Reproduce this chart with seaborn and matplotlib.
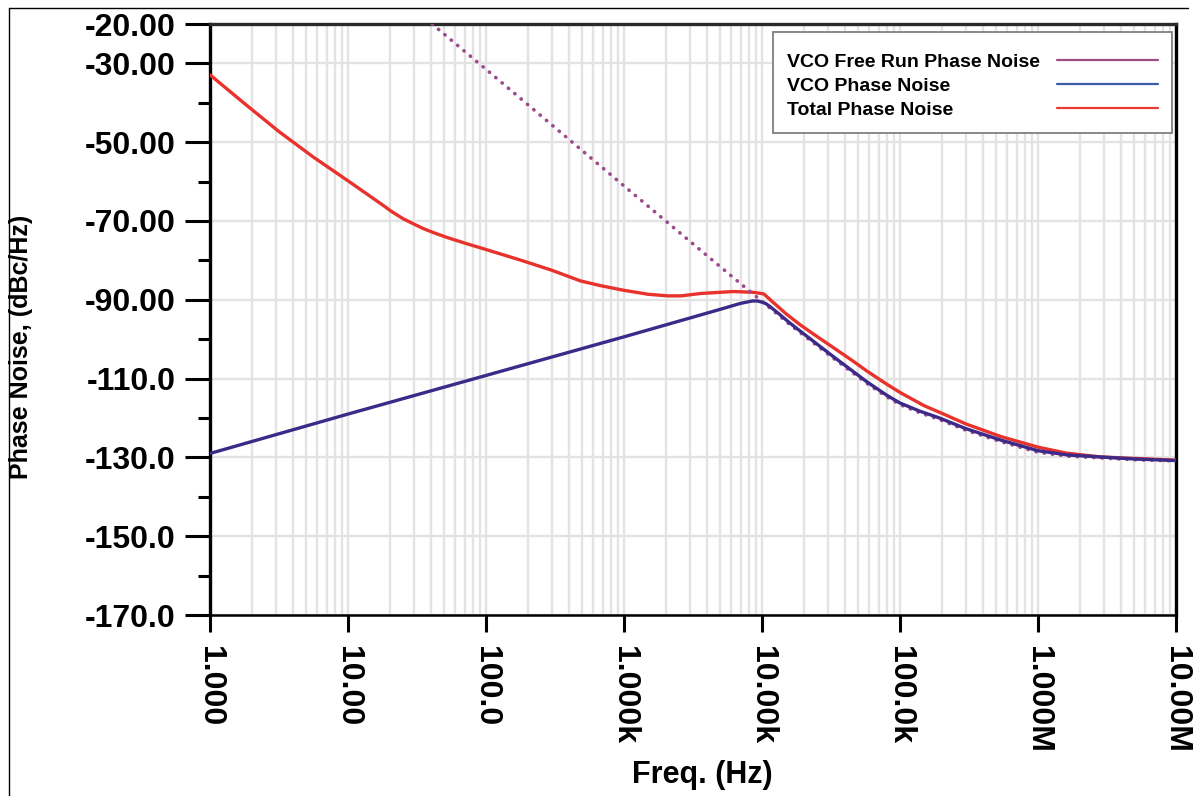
import numpy as np
import pandas as pd
import matplotlib
matplotlib.use("Agg")
import matplotlib.pyplot as plt
import seaborn as sns
from matplotlib.lines import Line2D
from matplotlib.ticker import FixedLocator, NullFormatter

# ---------------- data ----------------
total_freq = [1, 1.78, 3.16, 5.62, 10, 17.1, 18.6, 20.5, 25, 29.7, 35, 42, 52.4, 70, 91,
              177, 300, 483, 675, 1000, 1500, 2070, 2600, 3580, 6200, 8700, 10300, 12000,
              15000, 19000, 25000, 33100, 45000, 58200, 80000, 101000, 150000, 207000,
              300000, 537000, 1000000, 1600000, 2860000, 10000000]
total_pn = [-32.9, -40.2, -47.3, -53.8, -59.8, -65.5, -66.4, -67.5, -69.4, -70.7, -71.9,
            -73.0, -74.2, -75.6, -76.8, -79.9, -82.5, -85.2, -86.4, -87.6, -88.6, -89.0,
            -89.0, -88.4, -87.9, -88.1, -88.5, -90.6, -93.6, -96.4, -99.3, -102.2,
            -105.4, -108.2, -111.4, -113.6, -116.9, -119.0, -121.5, -124.7, -127.4,
            -128.9, -129.9, -130.7]

vco_freq = [1, 10, 100, 1000, 3160, 5000, 7000, 8500, 9300, 10000, 10700, 11500, 13000,
            15800, 20000, 33100, 45000, 58000, 80000, 100000, 140000, 190000, 300000,
            537000, 1000000, 1660000, 5000000, 10000000]
vco_pn = [-129.0, -119.0, -109.2, -99.4, -94.4, -92.4, -90.9, -90.3, -90.3, -90.6, -91.0,
          -91.8, -93.3, -95.8, -98.6, -104.5, -108.0, -110.9, -114.2, -116.2, -118.3,
          -119.9, -122.7, -125.6, -128.3, -129.4, -130.4, -130.8]

free_freq = [40.7, 100, 1000, 4460, 8260, 10000, 11500, 13000, 15800, 20000, 33100, 45000,
             58000, 80000, 100000, 140000, 190000, 300000, 537000, 1000000, 1660000,
             5000000, 10000000]
free_pn = [-20.0, -31.5, -61.1, -80.2, -88.0, -90.4, -92.2, -93.7, -96.2, -99.0, -104.9,
           -108.4, -111.3, -114.6, -116.6, -118.7, -120.3, -123.1, -126.0, -128.7,
           -129.7, -130.6, -130.9]

series_labels = ["VCO Free Run Phase Noise", "VCO Phase Noise", "Total Phase Noise"]

x_ticks = [1, 10, 100, 1e3, 1e4, 1e5, 1e6, 1e7]
x_ticklabels = ["1.000", "10.00", "100.0", "1.000k", "10.00k", "100.0k", "1.000M", "10.00M"]
y_ticks = [-170, -150, -130, -110, -90, -70, -50, -30, -20]
y_ticklabels = ["-170.0", "-150.0", "-130.0", "-110.0", "-90.00", "-70.00", "-50.00",
                "-30.00", "-20.00"]
y_minor = [-160, -140, -120, -100, -80, -60, -40]

# ---------------- style ----------------
sns.set_theme(style="ticks")
plt.rcParams["font.family"] = ["Liberation Sans", "DejaVu Sans"]
plt.rcParams["text.color"] = "black"
plt.rcParams["axes.labelcolor"] = "black"
plt.rcParams["xtick.color"] = "black"
plt.rcParams["ytick.color"] = "black"

W, H = 1203, 796
AX_L, AX_R, AX_T, AX_B = 210, 1176, 24, 615
AW, AH = AX_R - AX_L, AX_B - AX_T


def ax_x(px):
    return (px - AX_L) / AW


def ax_y(py):
    return (AX_B - py) / AH


fig = plt.figure(figsize=(W / 100, H / 100), dpi=100)
fig.patch.set_facecolor("white")
ax = fig.add_axes([AX_L / W, 1 - AX_B / H, AW / W, AH / H])
ax.set_facecolor("white")

df_total = pd.DataFrame({"f": total_freq, "pn": total_pn})
df_vco = pd.DataFrame({"f": vco_freq, "pn": vco_pn})
df_free = pd.DataFrame({"f": free_freq, "pn": free_pn})

sns.lineplot(data=df_total, x="f", y="pn", ax=ax, color="#e8322b", lw=2.4,
             zorder=3, estimator=None)
sns.lineplot(data=df_free, x="f", y="pn", ax=ax, color="#9c4a8c", lw=2.6,
             linestyle=(0, (0.1, 2.2)), dash_capstyle="round", zorder=4, estimator=None)
sns.lineplot(data=df_vco, x="f", y="pn", ax=ax, color="#3c2a88", lw=2.4,
             zorder=5, estimator=None)

ax.set_xscale("log")
ax.set_xlim(1, 1e7)
ax.set_ylim(-170, -20)

ax.xaxis.set_major_locator(FixedLocator(x_ticks))
ax.set_xticklabels(x_ticklabels, rotation=-90, fontsize=23, fontweight="bold")
minor_x = [m * 10 ** d for d in range(0, 7) for m in range(2, 10)]
ax.xaxis.set_minor_locator(FixedLocator(minor_x))
ax.xaxis.set_minor_formatter(NullFormatter())

ax.yaxis.set_major_locator(FixedLocator(y_ticks))
ax.set_yticklabels(y_ticklabels, fontsize=23, fontweight="bold")
ax.yaxis.set_minor_locator(FixedLocator(y_minor))

ax.tick_params(axis="x", which="major", direction="out", length=12, width=2.2,
               color="black", pad=10, bottom=True)
ax.tick_params(axis="x", which="minor", length=0, bottom=False)
ax.tick_params(axis="y", which="major", direction="out", length=18, width=2.2,
               color="black", pad=7, left=True)
ax.tick_params(axis="y", which="minor", direction="out", length=9, width=2.2,
               color="black", left=True)

ax.set_axisbelow(True)
ax.grid(which="major", axis="both", color="#e3e3e3", lw=1.7)
ax.grid(which="minor", axis="x", color="#e3e3e3", lw=1.7)

for side in ["left", "right", "bottom", "top"]:
    ax.spines[side].set_visible(True)
    ax.spines[side].set_color("black")
ax.spines["left"].set_linewidth(2.4)
ax.spines["right"].set_linewidth(2.4)
ax.spines["bottom"].set_linewidth(1.8)
ax.spines["top"].set_linewidth(2.4)
ax.spines["top"].set_color("#2a2a2a")

ax.set_xlabel("Freq. (Hz)", fontsize=22, fontweight="bold")
ax.xaxis.set_label_coords(ax_x(702), ax_y(760))
ax.set_ylabel("Phase Noise, (dBc/Hz)", fontsize=18, fontweight="bold")
ax.yaxis.set_label_coords(ax_x(33), ax_y(347))

# ---- legend: framed box with left-aligned texts, line samples on the right ----
leg_fs = 14
common = dict(labelspacing=0.33, borderpad=0.72, borderaxespad=0.0,
              title=" ", title_fontsize=1, prop={"weight": "bold", "size": leg_fs})
box = (ax_x(773), ax_y(128), (1172 - 773) / AW, (128 - 32) / AH)
blank = [Line2D([], [], lw=0, color="none") for _ in series_labels]
leg_text = ax.legend(blank, series_labels, loc="upper left", bbox_to_anchor=box,
                     mode="expand", handlelength=0, handletextpad=0, frameon=True,
                     fancybox=False, edgecolor="#7f7f7f", framealpha=1, **common)
leg_text.get_frame().set_linewidth(1.3)
leg_text.set_zorder(10)
ax.add_artist(leg_text)

handles = [Line2D([0], [0], color="#9e4f80", lw=1.6),
           Line2D([0], [0], color="#3b5ba8", lw=1.6),
           Line2D([0], [0], color="#e83a35", lw=1.6)]
leg_lines = ax.legend(handles, ["", "", ""], loc="upper right",
                      bbox_to_anchor=(ax_x(1172), ax_y(32)), handlelength=5.2,
                      handletextpad=0, frameon=False, **common)
leg_lines.set_zorder(11)

# outer frame lines of the original picture
fig.add_artist(Line2D([9 / W, 9 / W], [0, 1 - 8 / H], transform=fig.transFigure,
                      color="black", lw=1.0))
fig.add_artist(Line2D([9 / W, 1188 / W], [1 - 8 / H, 1 - 8 / H], transform=fig.transFigure,
                      color="black", lw=1.0))

fig.savefig("out.png", dpi=100, facecolor="white")
